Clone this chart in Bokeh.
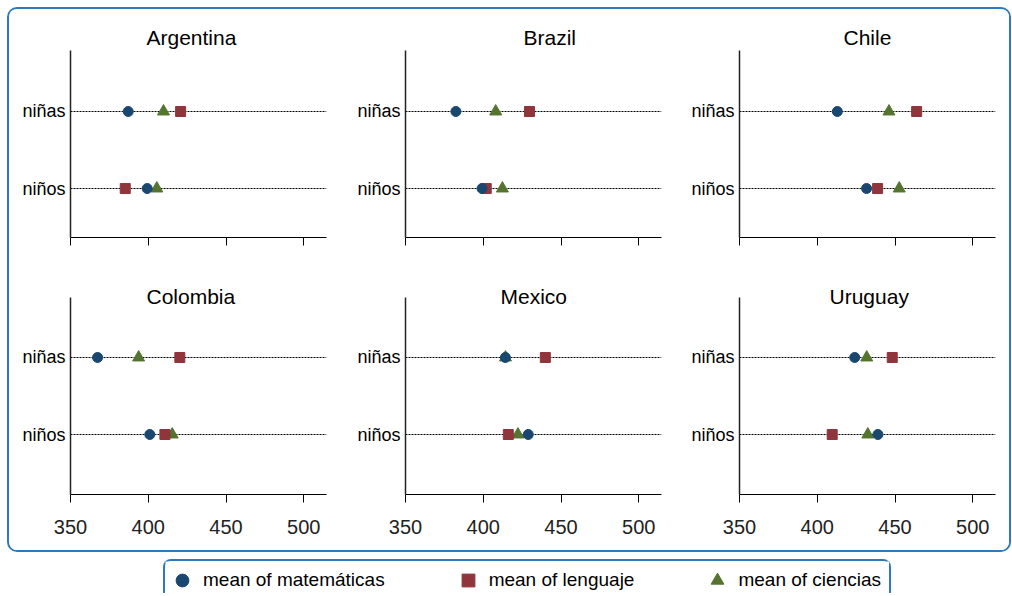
from bokeh.plotting import figure
from bokeh.layouts import column, row
from bokeh.models import Range1d, FixedTicker, Spacer, Legend, LegendItem, ColumnDataSource
from bokeh.embed import file_html
from bokeh.resources import INLINE

# ---------------- data ----------------
countries = ["Argentina", "Brazil", "Chile", "Colombia", "Mexico", "Uruguay"]
groups = ["niños", "niñas"]
x_ticks = [350, 400, 450, 500]

matematicas_ninos = [399.3, 399.2, 431.7, 401.0, 428.9, 439.0]
matematicas_ninas = [387.1, 382.4, 412.9, 367.4, 414.2, 424.1]
lenguaje_ninos = [385.2, 401.9, 438.8, 410.7, 416.1, 409.6]
lenguaje_ninas = [420.8, 429.7, 463.9, 420.3, 439.9, 448.2]
ciencias_ninos = [405.5, 412.3, 452.7, 415.4, 422.3, 432.5]
ciencias_ninas = [409.8, 408.0, 446.1, 393.8, 414.3, 431.8]

legend_labels = ["mean of matemáticas", "mean of lenguaje", "mean of ciencias"]

# ---------------- style ----------------
FONT = "Liberation Sans"
NAVY, MAROON, GREEN = "#1a476f", "#90353b", "#55752f"
BLUE_BOX = "#2e78bd"

col_left = [61, 68, 68]
col_right = [11, 10, 14]
frame_w = 256
row_top = [41, 35]
row_bottom = [25, 56]
frame_h = [187, 197]
y_lims = [(0.364, 2.792), (0.221, 2.779)]
title_offsets = [76, 118, 104, 76, 95, 90]
title_standoff = [4, -20]

panels = []
for i, country in enumerate(countries):
    r, c = divmod(i, 3)
    w = col_left[c] + frame_w + col_right[c]
    h = row_top[r] + frame_h[r] + row_bottom[r]
    p = figure(width=w, height=h, toolbar_location=None, output_backend="svg",
               x_range=Range1d(350, 514.6), y_range=Range1d(*y_lims[r]),
               min_border_left=col_left[c], min_border_right=col_right[c],
               min_border_top=row_top[r], min_border_bottom=row_bottom[r],
               title=country)
    p.outline_line_color = None
    p.background_fill_color = "white"
    p.border_fill_color = "white"
    p.title.text_font = FONT
    p.title.text_font_size = "21px"
    p.title.text_font_style = "normal"
    p.title.text_color = "black"
    p.title.align = "left"
    p.title.offset = title_offsets[i]
    p.title.standoff = title_standoff[r]

    ys = [groups.index(g) + 1 for g in groups]
    src = ColumnDataSource(dict(
        y=ys,
        mat=[matematicas_ninos[i], matematicas_ninas[i]],
        len=[lenguaje_ninos[i], lenguaje_ninas[i]],
        cie=[ciencias_ninos[i], ciencias_ninas[i]],
    ))

    # x axis
    xa = p.xaxis[0]
    xa.ticker = FixedTicker(ticks=x_ticks)
    xa.major_tick_out = 8
    xa.major_tick_in = 0
    xa.minor_tick_out = 0
    xa.minor_tick_in = 0
    xa.axis_line_color = "black"
    xa.major_tick_line_color = "black"
    xa.axis_line_width = 1
    xa.major_label_text_font = FONT
    xa.major_label_text_color = "#222222"
    if r == 0:
        xa.major_label_overrides = {t: "" for t in x_ticks}
        xa.major_label_text_font_size = "1px"
        xa.major_label_text_color = None
        xa.major_label_standoff = 0
    else:
        xa.major_label_text_font_size = "20px"
        xa.major_label_standoff = 17

    # y axis
    ya = p.yaxis[0]
    ya.ticker = FixedTicker(ticks=ys)
    ya.major_label_overrides = {k: g for k, g in zip(ys, groups)}
    ya.major_tick_out = 0
    ya.major_tick_in = 0
    ya.minor_tick_out = 0
    ya.minor_tick_in = 0
    ya.axis_line_color = "#222222"
    ya.axis_line_width = 1.5
    ya.major_label_standoff = 5
    ya.major_label_text_font = FONT
    ya.major_label_text_font_size = "18px"
    ya.major_label_text_color = "black"

    p.xgrid.visible = False
    p.ygrid.grid_line_color = "black"
    p.ygrid.grid_line_dash = "2 1"
    p.ygrid.grid_line_width = 1.2

    p.scatter(x="cie", y="y", source=src, marker="triangle", size=12,
              fill_color=GREEN, line_color=GREEN)
    p.scatter(x="len", y="y", source=src, marker="square", size=10,
              fill_color=MAROON, line_color=MAROON)
    p.scatter(x="mat", y="y", source=src, marker="circle", size=10,
              fill_color=NAVY, line_color=NAVY)
    panels.append(p)

top = column(row(panels[0], panels[1], panels[2]),
             row(panels[3], panels[4], panels[5]),
             styles={"border": f"2px solid {BLUE_BOX}", "border-radius": "10px",
                     "overflow": "hidden"})

# ---------------- legend ----------------
lf = figure(width=728, height=34, toolbar_location=None, output_backend="svg",
            x_range=Range1d(0, 1), y_range=Range1d(0, 1), min_border=0,
            styles={"border-top": f"2px solid {BLUE_BOX}",
                    "border-left": f"2px solid {BLUE_BOX}",
                    "border-right": f"2px solid {BLUE_BOX}",
                    "border-radius": "8px 8px 0 0"})
lf.axis.visible = False
lf.grid.visible = False
lf.outline_line_color = None
markers = ["circle", "square", "triangle"]
colors = [NAVY, MAROON, GREEN]
items = []
for lab, mk, col in zip(legend_labels, markers, colors):
    rr = lf.scatter(x=[0.5], y=[0.5], marker=mk, fill_color=col, line_color=col,
                    visible=False)
    items.append(LegendItem(label=lab, renderers=[rr]))
leg = Legend(items=items, orientation="horizontal", location=(1, -1),
             glyph_width=32, glyph_height=32, label_standoff=5, spacing=67,
             padding=0, margin=0, border_line_color=None, background_fill_alpha=0,
             label_text_font=FONT, label_text_font_size="19px",
             label_text_color="black")
lf.add_layout(leg)

inner = column(top, Spacer(width=10, height=7), row(Spacer(width=156, height=34), lf))
page = row(Spacer(width=7, height=10), column(Spacer(width=10, height=7), inner))

open("out.html", "w").write(file_html(page, INLINE))
